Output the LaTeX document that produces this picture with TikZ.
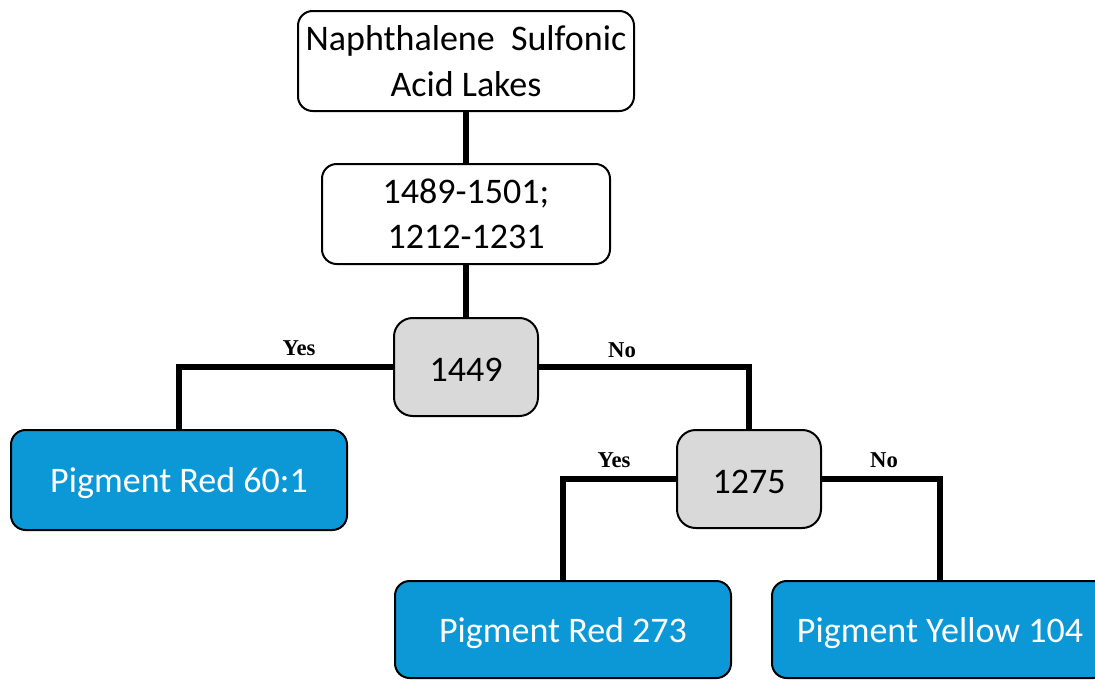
\documentclass[tikz,border=0pt]{standalone}
\usepackage{fontspec}
\setmainfont{Carlito}
\newfontfamily\answerfont{Liberation Serif}
\usetikzlibrary{positioning}
\definecolor{leafblue}{RGB}{12,152,214}
\definecolor{splitgrey}{RGB}{217,217,217}
\tikzset{
  rootbox/.style={
    draw, line width=1.5pt, rounded corners=11pt, fill=white, align=center,
    font=\fontsize{27}{34}\selectfont, minimum width=252pt, minimum height=75pt,
    inner sep=0pt
  },
  rangebox/.style={
    rootbox, minimum width=216pt
  },
  splitbox/.style={
    draw, line width=1.5pt, rounded corners=14pt, fill=splitgrey,
    font=\fontsize{27}{34}\selectfont, minimum width=108pt, minimum height=73.5pt,
    inner sep=0pt, text height=22pt, text depth=0.5pt
  },
  leafbox/.style={
    draw, line width=1.5pt, rounded corners=11pt, fill=leafblue, text=white,
    font=\fontsize{27}{34}\selectfont, minimum width=252pt, minimum height=75pt,
    inner sep=0pt, text height=22pt, text depth=3pt
  },
  branch/.style={line width=4.8pt},
  answer/.style={font=\answerfont\fontsize{17}{18}\selectfont\bfseries, inner sep=0pt},
}

\begin{document}
\begin{tikzpicture}[x=0.75pt, y=-0.75pt]
  \useasboundingbox (0,0) rectangle (1095,679);
  \clip (0,0) rectangle (1095,679);

  % decision nodes
  \node[rootbox] (root) at (466,61) {Naphthalene\ \ Sulfonic\\Acid Lakes};
  \node[rangebox] (range) at (466,214) {1489-1501;\\1212-1231};
  \node[splitbox] (s1449) at (466,367) {1449};
  \node[splitbox] (s1275) at (749,479) {1275};

  % leaves
  \node[leafbox] (pr601) at (179,480) {Pigment Red 60:1};
  \node[leafbox, minimum height=72.75pt] (pr273) at (563,629.5) {Pigment Red 273};
  \node[leafbox, minimum height=72.75pt] (py104) at (940,629.5) {Pigment Yellow 104};

  % branches
  \draw[branch] (root.south) -- (range.north);
  \draw[branch] (range.south) -- (s1449.north);
  \draw[branch] (s1449.west) -| (pr601.north);
  \draw[branch] (s1449.east) -| (s1275.north);
  \draw[branch] (s1275.west) -| (pr273.north);
  \draw[branch] (s1275.east) -| (py104.north);

  % yes / no labels
  \node[answer] (yes1) at (299,348) {Yes};
  \node[answer] (no1) at (622,350) {No};
  \node[answer] (yes2) at (614,460) {Yes};
  \node[answer] (no2) at (884,460) {No};
\end{tikzpicture}
\end{document}
